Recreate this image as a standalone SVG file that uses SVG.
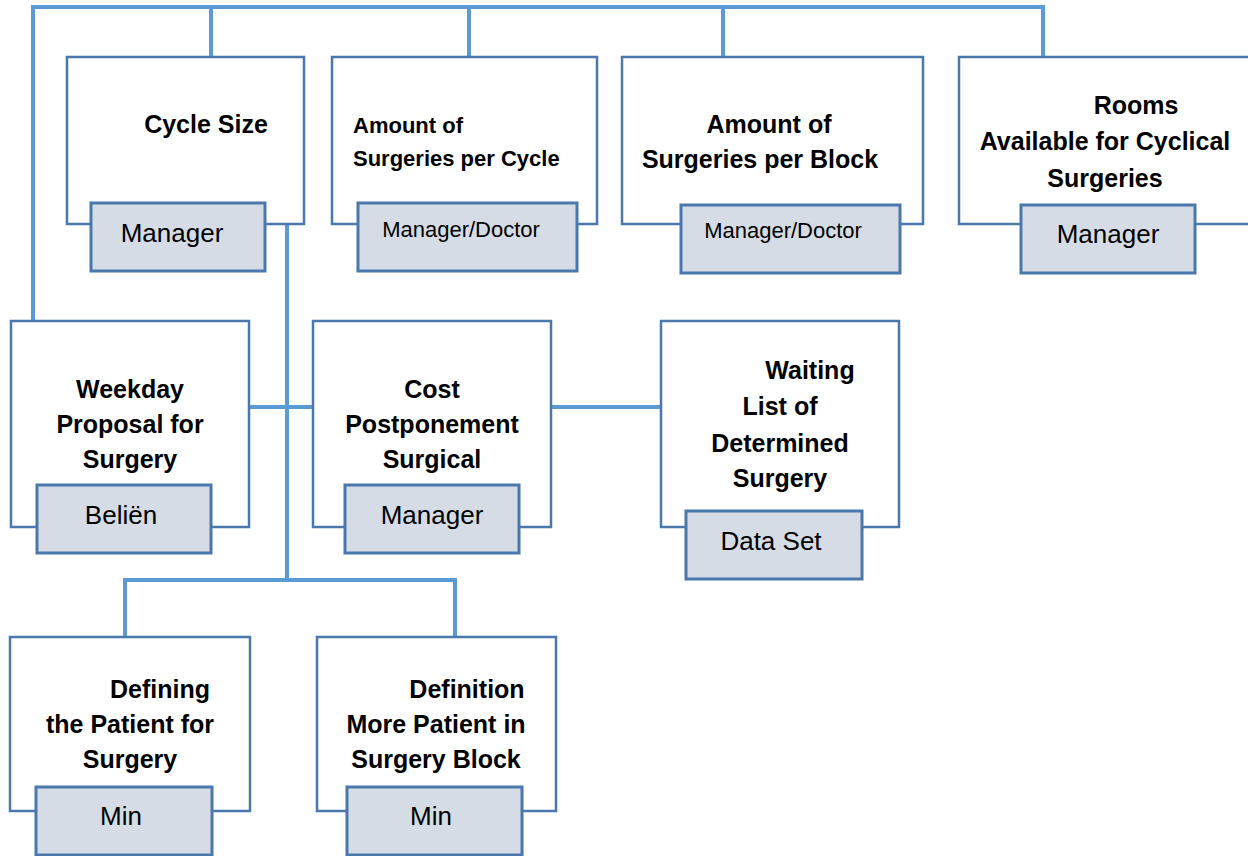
<svg xmlns="http://www.w3.org/2000/svg" width="1248" height="856" viewBox="0 0 1248 856">
<style>
.conn{fill:none;stroke:#5B9BD5;stroke-width:4}
.box{fill:#FFFFFF;stroke:#4A78AC;stroke-width:2.5}
.lab{fill:#D6DCE5;stroke:#4A78AC;stroke-width:3}
.t{font-family:"Liberation Sans",Arial,sans-serif;font-weight:bold;font-size:25px;fill:#000}
.ts{font-family:"Liberation Sans",Arial,sans-serif;font-weight:bold;font-size:22px;fill:#000}
.l{font-family:"Liberation Sans",Arial,sans-serif;font-size:26px;fill:#000;text-anchor:middle}
.ls{font-family:"Liberation Sans",Arial,sans-serif;font-size:22px;fill:#000;text-anchor:middle}
.m{text-anchor:middle}
</style>
<rect width="1248" height="856" fill="#FFFFFF"/>
<g id="connectors">
<path class="conn" d="M33,321 V7 H1043 V57"/>
<path class="conn" d="M211,7 V57"/>
<path class="conn" d="M469,7 V57"/>
<path class="conn" d="M723,7 V57"/>
<path class="conn" d="M287,224 V580"/>
<path class="conn" d="M249,407 H313"/>
<path class="conn" d="M551,407 H661"/>
<path class="conn" d="M125,637 V580 H455 V637"/>
</g>
<g id="cycle-size">
<rect class="box" x="67" y="57" width="237" height="167"/>
<text class="t m" x="206" y="133">Cycle Size</text>
<rect class="lab" x="91" y="203" width="174" height="68"/>
<text class="l" x="172" y="242">Manager</text>
</g>
<g id="amount-cycle">
<rect class="box" x="332" y="57" width="265" height="167"/>
<text class="ts" x="353" y="133">Amount of</text>
<text class="ts" x="353" y="166">Surgeries per Cycle</text>
<rect class="lab" x="358" y="203" width="219" height="68"/>
<text class="ls" x="461" y="237">Manager/Doctor</text>
</g>
<g id="amount-block">
<rect class="box" x="622" y="57" width="301" height="167"/>
<text class="t m" x="769" y="133">Amount of</text>
<text class="t m" x="760" y="168">Surgeries per Block</text>
<rect class="lab" x="681" y="205" width="219" height="68"/>
<text class="ls" x="783" y="238">Manager/Doctor</text>
</g>
<g id="rooms">
<rect class="box" x="959" y="57" width="320" height="167"/>
<text class="t m" x="1136" y="114">Rooms</text>
<text class="t m" x="1105" y="150">Available for Cyclical</text>
<text class="t m" x="1105" y="187">Surgeries</text>
<rect class="lab" x="1021" y="205" width="174" height="68"/>
<text class="l" x="1108" y="243">Manager</text>
</g>
<g id="weekday">
<rect class="box" x="11" y="321" width="238" height="206"/>
<text class="t m" x="130" y="398">Weekday</text>
<text class="t m" x="130" y="433">Proposal for</text>
<text class="t m" x="130" y="468">Surgery</text>
<rect class="lab" x="37" y="485" width="174" height="68"/>
<text class="l" x="121" y="524">Beliën</text>
</g>
<g id="cost">
<rect class="box" x="313" y="321" width="238" height="206"/>
<text class="t m" x="432" y="398">Cost</text>
<text class="t m" x="432" y="433">Postponement</text>
<text class="t m" x="432" y="468">Surgical</text>
<rect class="lab" x="345" y="485" width="174" height="68"/>
<text class="l" x="432" y="524">Manager</text>
</g>
<g id="waiting">
<rect class="box" x="661" y="321" width="238" height="206"/>
<text class="t m" x="810" y="379">Waiting</text>
<text class="t m" x="780" y="415">List of</text>
<text class="t m" x="780" y="452">Determined</text>
<text class="t m" x="780" y="487">Surgery</text>
<rect class="lab" x="686" y="511" width="176" height="68"/>
<text class="l" x="771" y="550">Data Set</text>
</g>
<g id="defining">
<rect class="box" x="10" y="637" width="240" height="174"/>
<text class="t m" x="160" y="698">Defining</text>
<text class="t m" x="130" y="733">the Patient for</text>
<text class="t m" x="130" y="768">Surgery</text>
<rect class="lab" x="36" y="787" width="176" height="68"/>
<text class="l" x="121" y="825">Min</text>
</g>
<g id="definition">
<rect class="box" x="317" y="637" width="239" height="174"/>
<text class="t m" x="467" y="698">Definition</text>
<text class="t m" x="436" y="733">More Patient in</text>
<text class="t m" x="436" y="768">Surgery Block</text>
<rect class="lab" x="347" y="787" width="175" height="68"/>
<text class="l" x="431" y="825">Min</text>
</g>
</svg>
